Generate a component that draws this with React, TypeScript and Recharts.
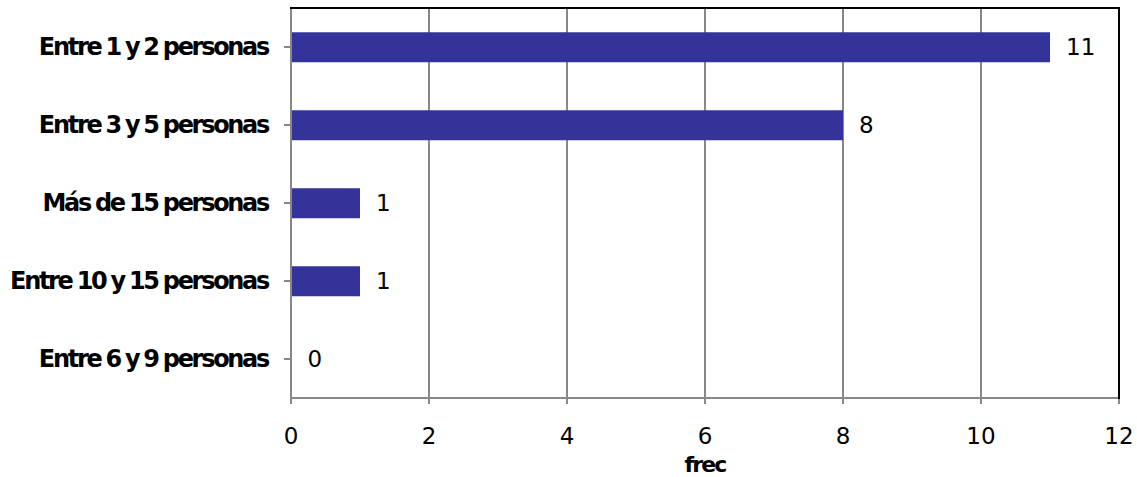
import { BarChart, Bar, XAxis, YAxis, CartesianGrid, LabelList, Label } from 'recharts';

const categories = [
  'Entre 1 y 2 personas',
  'Entre 3 y 5 personas',
  'Más de 15 personas',
  'Entre 10 y 15 personas',
  'Entre 6 y 9 personas',
];
const frec = [11, 8, 1, 1, 0];
const xTicks = [0, 2, 4, 6, 8, 10, 12];

const data = categories.map((name, i) => ({ name, frec: frec[i] }));

const font = 'DejaVu Sans, sans-serif';

// category labels are squeezed in the original, so draw them by hand
function CategoryTick(props: any) {
  const { x, y, payload } = props;
  return (
    <text
      x={x - 14}
      y={y}
      dy={8}
      textAnchor="end"
      fill="#000"
      fontSize={24}
      fontWeight="bold"
      fontFamily={font}
      style={{ letterSpacing: -2.3, wordSpacing: -1 }}
    >
      {payload.value}
    </text>
  );
}

export default function App() {
  return (
    <div style={{ position: 'absolute', left: 0, top: 0, width: 1137, height: 477, background: '#fff' }}>
      <BarChart
        width={1137}
        height={477}
        data={data}
        layout="vertical"
        margin={{ top: 8, right: 18, bottom: 0, left: 0 }}
        barCategoryGap="31%"
      >
        <CartesianGrid horizontal={false} stroke="#888" strokeWidth={2} />
        <XAxis
          type="number"
          domain={[0, 12]}
          ticks={xTicks}
          height={79}
          axisLine={{ stroke: '#888', strokeWidth: 2 }}
          tickLine={{ stroke: '#888', strokeWidth: 2 }}
          tickSize={6}
          tickMargin={24}
          tick={{ fill: '#000', fontSize: 23, fontFamily: font }}
        >
          <Label
            value="frec"
            position="insideBottom"
            offset={5}
            style={{ fill: '#000', fontSize: 22, fontWeight: 'bold', fontFamily: font, letterSpacing: -1.8 }}
          />
        </XAxis>
        <YAxis
          type="category"
          dataKey="name"
          width={291}
          axisLine={{ stroke: '#888', strokeWidth: 2 }}
          tickLine={{ stroke: '#888', strokeWidth: 2 }}
          tickSize={7}
          tick={<CategoryTick />}
        />
        <Bar dataKey="frec" fill="#333399" minPointSize={0.5} isAnimationActive={false}>
          <LabelList dataKey="frec" position="right" offset={16} style={{ fill: '#000', fontSize: 23, fontFamily: font }} />
        </Bar>
      </BarChart>
      {/* black top/right edge of the plot frame */}
      <div
        style={{
          position: 'absolute',
          left: 290,
          top: 7,
          width: 830,
          height: 392,
          boxSizing: 'border-box',
          borderTop: '2px solid #000',
          borderRight: '2px solid #000',
          pointerEvents: 'none',
        }}
      />
    </div>
  );
}
